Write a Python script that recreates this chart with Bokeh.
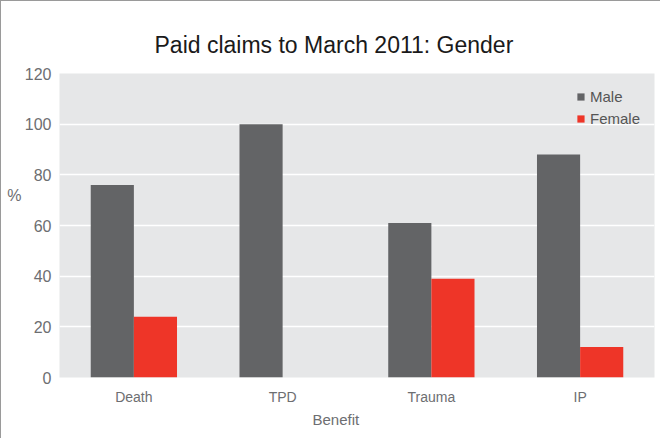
from bokeh.plotting import figure
from bokeh.models import (FactorRange, ColumnDataSource, SingleIntervalTicker,
                          LinearAxis, FixedTicker, Title)
from bokeh.transform import dodge
from bokeh.embed import file_html
from bokeh.resources import INLINE

categories = ["Death", "TPD", "Trauma", "IP"]
male = [76, 100, 61, 88]
female = [24, 0, 39, 12]
title_text = "Paid claims to March 2011: Gender"
x_label = "Benefit"
y_label = "%"

MALE_C = "#636466"
FEMALE_C = "#ee3528"
TICK_C = "#6d6e71"
REG = "'Liberation Sans', Arial, sans-serif"

src = ColumnDataSource(dict(cat=categories, male=male, female=female))

p = figure(x_range=FactorRange(*categories), y_range=(0, 120),
           width=660, height=438, output_backend="svg", toolbar_location=None,
           min_border_left=58, min_border_right=7, min_border_top=72, min_border_bottom=62)
p.styles = {"border-left": "1px solid #9a9a9a", "border-top": "1px solid #9a9a9a"}

p.vbar(x=dodge("cat", -0.145, range=p.x_range), top="male", width=0.29, source=src,
       color=MALE_C, line_color=None, legend_label="Male")
p.vbar(x=dodge("cat", 0.145, range=p.x_range), top="female", width=0.29, source=src,
       color=FEMALE_C, line_color=None, legend_label="Female")

p.title.text = title_text
p.title.align = "left"
p.title.offset = 95
p.title.text_font = REG
p.title.text_font_size = "23px"
p.title.text_font_style = "normal"
p.title.text_color = "#1a1a1a"
p.title.standoff = 32

p.background_fill_color = "#e6e7e8"
p.border_fill_color = "white"
p.outline_line_color = None
p.xgrid.grid_line_color = None
p.ygrid.grid_line_color = "white"
p.ygrid.grid_line_width = 1.5

p.yaxis.ticker = SingleIntervalTicker(interval=20)
p.yaxis.axis_line_color = None
p.yaxis.major_tick_line_color = None
p.yaxis.minor_tick_line_color = None
p.yaxis.major_tick_out = 0
p.yaxis.minor_tick_out = 0
p.yaxis.major_label_text_font = REG
p.yaxis.major_label_text_font_size = "16px"
p.yaxis.major_label_text_color = TICK_C
p.yaxis.major_label_standoff = 8

p.xaxis.axis_line_color = None
p.xaxis.major_tick_line_color = None
p.xaxis.major_tick_out = 0
p.xaxis.major_label_text_font = REG
p.xaxis.major_label_text_font_size = "14px"
p.xaxis.major_label_text_color = TICK_C
p.xaxis.major_label_standoff = 11

# "%" label placed as a lone tick label on a second left axis
pct_axis = LinearAxis(ticker=FixedTicker(ticks=[72]), major_label_overrides={72: y_label},
                      axis_line_color=None, major_tick_line_color=None,
                      minor_tick_line_color=None, major_tick_out=0, minor_tick_out=0,
                      major_label_standoff=0,
                      major_label_text_font=REG, major_label_text_font_size="16px",
                      major_label_text_color=TICK_C)
p.add_layout(pct_axis, "left")

# "Benefit" axis title, slightly left of centre as in the original
p.add_layout(Title(text=x_label, align="left", offset=253, standoff=2,
                   text_font=REG, text_font_size="15px", text_font_style="normal",
                   text_color=TICK_C), "below")

p.legend.location = "top_right"
p.legend.background_fill_alpha = 0
p.legend.border_line_color = None
p.legend.glyph_width = 9
p.legend.glyph_height = 9
p.legend.label_standoff = 5
p.legend.spacing = 4
p.legend.label_height = 18
p.legend.padding = 6
p.legend.margin = 14
p.legend.label_text_font = REG
p.legend.label_text_font_size = "15px"
p.legend.label_text_color = "#555555"

open("out.html", "w").write(file_html(p, INLINE))
